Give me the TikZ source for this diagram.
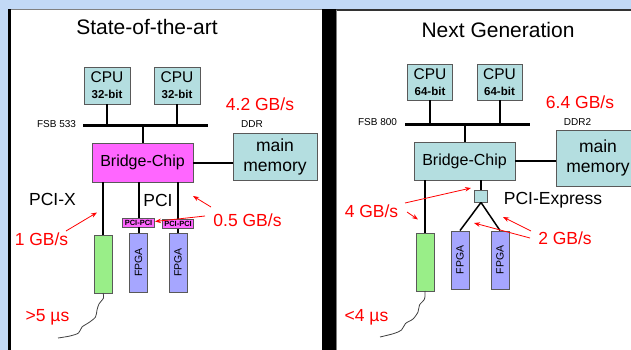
\documentclass[tikz,border=0pt]{standalone}
\usepackage{fontspec}
\setmainfont{Liberation Sans}
\usetikzlibrary{arrows.meta}
\definecolor{bgblue}{HTML}{C2D9F6}
\definecolor{cpufill}{HTML}{B4DEE0}
\definecolor{bridgemag}{HTML}{FF66FF}
\definecolor{greenbox}{HTML}{99EE88}
\definecolor{fpgablue}{HTML}{A6A6FF}
\definecolor{edgegray}{HTML}{595959}
\definecolor{wavegray}{HTML}{404040}
\tikzset{
  box/.style={draw=edgegray, line width=0.9pt, inner sep=0pt, align=center},
  cpubox/.style={box, fill=cpufill, minimum width=46pt, minimum height=37pt},
  wire/.style={line width=2pt, black},
  busline/.style={line width=3pt, black},
  redarrow/.style={red, line width=0.8pt, -{Stealth[length=6pt,width=4.5pt]}},
  redlabel/.style={text=red, inner sep=0pt, font=\fontsize{17.5}{20}\selectfont},
  biglabel/.style={inner sep=0pt, font=\fontsize{17.5}{20}\selectfont},
  smalllabel/.style={inner sep=0pt, font=\fontsize{10}{12}\selectfont},
  titlelabel/.style={inner sep=0pt, font=\fontsize{21}{25}\selectfont},
  fpgatext/.style={rotate=90, inner sep=0pt, font=\fontsize{10.5}{12}\selectfont},
  wave/.style={wavegray, line width=0.8pt}
}
\newcommand{\cputext}[1]{\fontsize{15.5}{19}\selectfont CPU\\[4pt]{\fontsize{11.5}{13}\selectfont\bfseries #1}}
\begin{document}
\begin{tikzpicture}[x=1pt,y=-1pt]
\useasboundingbox (0,0) rectangle (631,350);
\clip (0,0) rectangle (631,350);
% background and panels
\fill[bgblue] (0,0) rectangle (631,350);
\fill[white] (8,9) rectangle (322,350);
\draw[gray, line width=0.8pt] (8,9.4) -- (322,9.4);
\fill[black] (8,9) rectangle (10.6,350);
\fill[white] (336,9.5) rectangle (631,350);
\draw[black!80, line width=1.2pt] (336,10) -- (631,10);
\draw[gray, line width=0.8pt] (336.6,10) -- (336.6,350);
\fill[black] (322,9) rectangle (336,350);

% ---------------- left panel ----------------
\node[titlelabel] (t1) at (147,27) {State-of-the-art};
\node[cpubox] (cpuA) at (107,85.5) {\cputext{32-bit}};
\node[cpubox] (cpuB) at (177,85.5) {\cputext{32-bit}};
\coordinate (busL) at (83,125);
\coordinate (busR) at (208,125);
\draw[busline] (busL) -- (busR);
\draw[wire] (cpuA.south) -- (cpuA.south |- busL);
\draw[wire] (cpuB.south) -- (cpuB.south |- busL);
\node[smalllabel] (fsb1) at (56.5,124.5) {FSB 533};
\node[smalllabel] (ddr1) at (252,124.5) {DDR};
\node[redlabel] (r42) at (260,104) {4.2 GB/s};
\node[box, fill=bridgemag, minimum width=101pt, minimum height=39pt, font=\fontsize{16}{19}\selectfont] (bridge) at (142.5,162.5) {Bridge-Chip};
\draw[wire] (bridge.north |- busL) -- (bridge.north);
\node[box, fill=cpufill, minimum width=84pt, minimum height=47pt, font=\fontsize{17.5}{20}\selectfont] (mem) at (275,156.5) {main\\memory};
\draw[wire] (bridge.east) -- (bridge.east -| mem.west);
\node[biglabel] (pcix) at (52.5,199) {PCI-X};
\node[biglabel] (pci) at (158,200) {PCI};
\node[box, fill=bridgemag, minimum width=32pt, minimum height=9pt, font=\fontsize{7.5}{8}\selectfont\bfseries] (pp1) at (138.5,222.5) {PCI-PCI};
\node[box, fill=bridgemag, minimum width=31pt, minimum height=8.5pt, font=\fontsize{7.5}{8}\selectfont\bfseries] (pp2) at (178,224) {PCI-PCI};
\node[box, fill=greenbox, minimum width=18pt, minimum height=58pt] (gr1) at (103,264) {};
\node[box, fill=fpgablue, minimum width=18pt, minimum height=59pt] (fp1) at (138.5,262.5) {};
\node[box, fill=fpgablue, minimum width=18pt, minimum height=59pt] (fp2) at (178,262.5) {};
\node[fpgatext] (fp1t) at (fp1) {FPGA};
\node[fpgatext] (fp2t) at (fp2) {FPGA};
\draw[wire] (bridge.south -| gr1.north) -- (gr1.north);
\draw[wire] (bridge.south -| pp1.north) -- (pp1.north);
\draw[wire] (bridge.south -| pp2.north) -- (pp2.north);
\draw[wire] (pp1.south) -- (fp1.north);
\draw[wire] (pp2.south) -- (fp2.north);
\node[redlabel] (r1) at (41.5,239) {1 GB/s};
\node[redlabel] (r05) at (247.5,220) {0.5 GB/s};
\coordinate (a1s) at (66,231);
\coordinate (a1e) at (97,212.5);
\draw[redarrow] (a1s) -- (a1e);
\coordinate (a2s) at (211,207);
\coordinate (a2e) at (193,196);
\draw[redarrow] (a2s) -- (a2e);
\coordinate (a3s) at (205,216);
\coordinate (a3e) at (155,221.5);
\draw[redarrow] (a3s) -- (a3e);
\node[redlabel] (lat1) at (47.5,317) {>5 µs};
\draw[wave] plot[smooth] coordinates {(103,293) (103.5,298) (99,304) (97,310) (95.5,317) (89,322.5) (82,327) (78.5,333) (70,336) (58,338)};

% ---------------- right panel ----------------
\node[titlelabel] (t2) at (498,30) {Next Generation};
\node[cpubox, minimum width=45pt, minimum height=36pt] (cpuC) at (430,82) {\cputext{64-bit}};
\node[cpubox, minimum width=45pt, minimum height=36pt] (cpuD) at (499.5,82) {\cputext{64-bit}};
\coordinate (bus2L) at (405,124);
\coordinate (bus2R) at (530,124);
\draw[busline] (bus2L) -- (bus2R);
\draw[wire] (cpuC.south) -- (cpuC.south |- bus2L);
\draw[wire] (cpuD.south) -- (cpuD.south |- bus2L);
\node[smalllabel] (fsb2) at (377.5,122.5) {FSB 800};
\node[smalllabel] (ddr2) at (577.5,122.5) {DDR2};
\node[redlabel] (r64) at (580,102) {6.4 GB/s};
\node[box, fill=cpufill, minimum width=101pt, minimum height=38pt, font=\fontsize{16}{19}\selectfont] (bridge2) at (464.5,161) {Bridge-Chip};
\draw[wire] (bridge2.north |- bus2L) -- (bridge2.north);
\node[box, fill=cpufill, minimum width=84pt, minimum height=56pt, font=\fontsize{17.5}{20}\selectfont] (mem2) at (598,158) {main\\memory};
\draw[wire] (bridge2.east) -- (bridge2.east -| mem2.west);
\node[box, fill=cpufill, minimum width=13pt, minimum height=12pt] (sq) at (481,196) {};
\node[biglabel] (pcie) at (553,200) {PCI-Express};
\node[box, fill=greenbox, minimum width=18pt, minimum height=58pt] (gr2) at (425,262) {};
\node[box, fill=fpgablue, minimum width=18pt, minimum height=58pt] (fp3) at (460,260) {};
\node[box, fill=fpgablue, minimum width=18pt, minimum height=58pt] (fp4) at (500,260) {};
\node[fpgatext] (fp3t) at (fp3) {FPGA};
\node[fpgatext] (fp4t) at (fp4) {FPGA};
\draw[wire] (bridge2.south -| gr2.north) -- (gr2.north);
\draw[wire] (bridge2.south -| sq.north) -- (sq.north);
\draw[line width=1.5pt] (sq.south) -- (fp3.north);
\draw[line width=1.5pt] (sq.south) -- (fp4.north);
\node[redlabel] (r4) at (371.5,211) {4 GB/s};
\node[redlabel] (r2) at (565,238) {2 GB/s};
\coordinate (b1s) at (405,203);
\coordinate (b1e) at (471,188);
\draw[redarrow] (b1s) -- (b1e);
\coordinate (b2s) at (407,212);
\coordinate (b2e) at (418,219.5);
\draw[redarrow] (b2s) -- (b2e);
\coordinate (b3s) at (530,238);
\coordinate (b3e) at (474,223);
\draw[redarrow] (b3s) -- (b3e);
\coordinate (b4s) at (531,231);
\coordinate (b4e) at (503,217);
\draw[redarrow] (b4s) -- (b4e);
\node[redlabel] (lat2) at (366.5,317) {<4 µs};
\draw[wave] plot[smooth] coordinates {(425,291) (424.5,299) (419.5,305) (418,312) (413,319) (405.5,323.5) (401.5,330) (394,333.5) (380,337)};
\end{tikzpicture}
\end{document}
